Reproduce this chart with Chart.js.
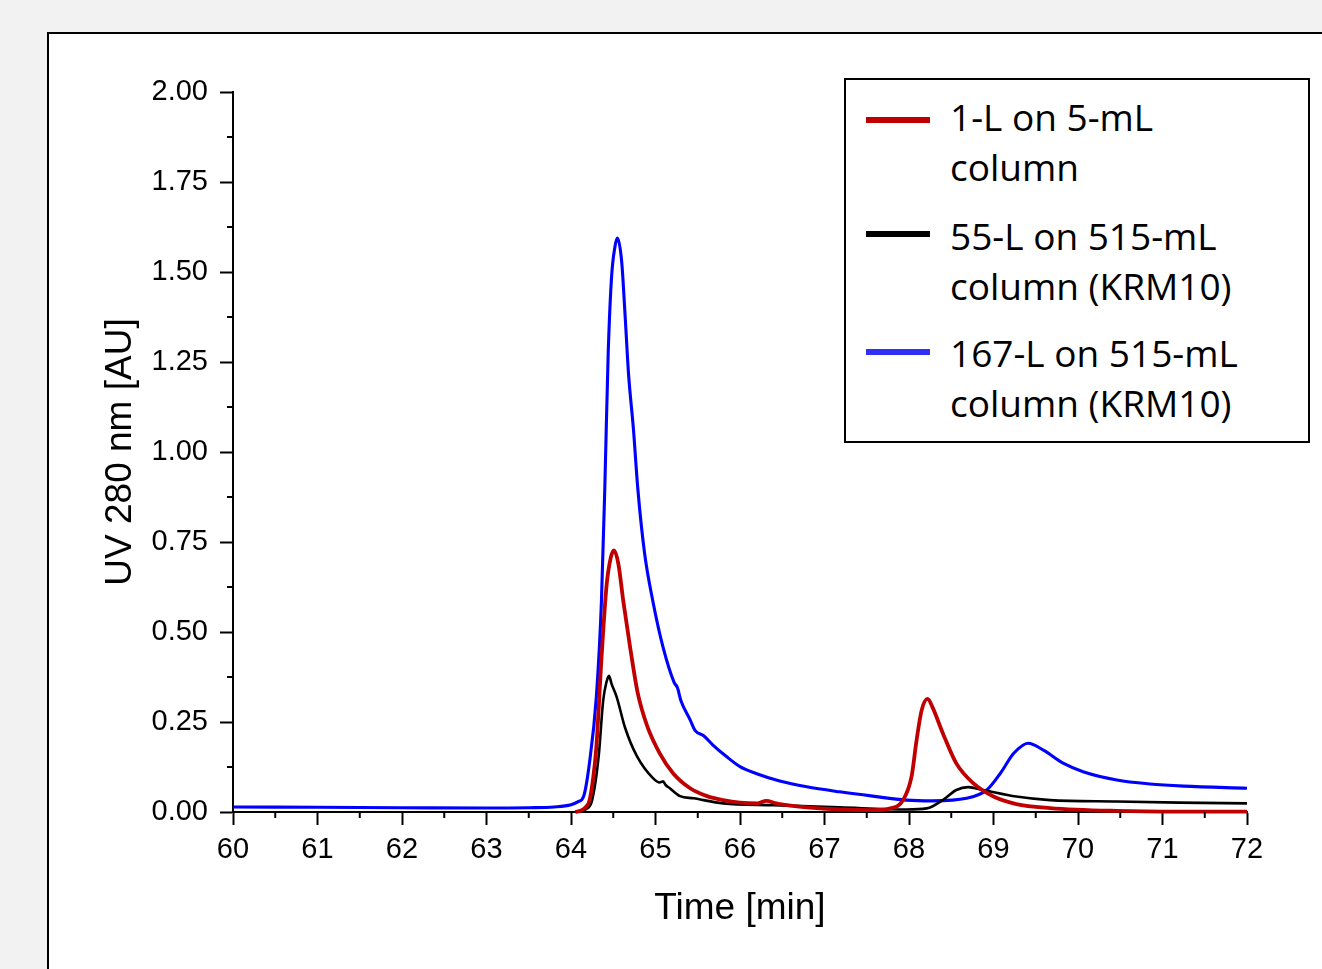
<!DOCTYPE html>
<html>
<head>
<meta charset="utf-8">
<script src="https://cdn.jsdelivr.net/npm/chart.js@4"></script>
<style>
    html, body { margin: 0; padding: 0; background: #f2f2f2; overflow: hidden; }
    #panel { position: absolute; left: 47px; top: 32px; width: 1400px; height: 1000px; background: #fff; border: 2px solid #000; }
    #chart { position: absolute; left: 0; top: 0; }
    #legend { position: absolute; left: 844px; top: 78px; width: 462px; height: 361px; border: 2px solid #000; background: #fff;
              font-family: "Open Sans", sans-serif; font-size: 37px; line-height: 50px; color: #000; }
    .swatch { position: absolute; left: 20px; width: 64px; height: 6px; }
    .txt { position: absolute; left: 104px; white-space: nowrap; }
</style>
</head>
<body>
<div id="panel"></div>
<canvas id="chart" width="1322" height="969"></canvas>
<div id="legend"></div>
<script>
// series (time in min, UV 280 nm in AU)
const redTime = [64.05, 64.12, 64.18, 64.22, 64.26, 64.30, 64.36, 64.42, 64.47, 64.51, 64.56, 64.62, 64.70, 64.79, 64.90, 65.05, 65.21, 65.41, 65.61, 65.80, 66.0, 66.21, 66.31, 66.43, 66.6, 66.79, 67.18, 67.57, 67.78, 67.93, 68.03, 68.09, 68.15, 68.22, 68.28, 68.40, 68.56, 68.76, 69.0, 69.27, 69.67, 70.46, 71.2, 72.0];
const redUV = [0, 0.004, 0.015, 0.033, 0.09, 0.18, 0.424, 0.627, 0.706, 0.727, 0.69, 0.584, 0.457, 0.33, 0.24, 0.163, 0.107, 0.066, 0.044, 0.033, 0.026, 0.024, 0.031, 0.024, 0.018, 0.013, 0.007, 0.005, 0.01, 0.033, 0.098, 0.2, 0.283, 0.314, 0.29, 0.219, 0.135, 0.08, 0.043, 0.022, 0.011, 0.003, 0.001, 0.001];

const blackTime = [64.1, 64.18, 64.25, 64.33, 64.38, 64.42, 64.45, 64.48, 64.54, 64.64, 64.78, 64.97, 65.05, 65.09, 65.12, 65.17, 65.29, 65.45, 65.80, 66.39, 67.18, 67.97, 68.21, 68.40, 68.56, 68.70, 68.88, 69.27, 69.67, 70.46, 71.2, 72.0];
const blackUV = [0, 0.008, 0.033, 0.161, 0.308, 0.361, 0.378, 0.356, 0.32, 0.234, 0.155, 0.094, 0.082, 0.085, 0.075, 0.066, 0.044, 0.038, 0.024, 0.019, 0.013, 0.007, 0.01, 0.033, 0.061, 0.069, 0.061, 0.043, 0.033, 0.029, 0.026, 0.024];

const blueTime = [60, 61, 62, 63, 63.5, 63.8, 64.0, 64.08, 64.15, 64.22, 64.30, 64.36, 64.40, 64.44, 64.48, 64.52, 64.55, 64.60, 64.64, 64.68, 64.74, 64.79, 64.87, 64.97, 65.09, 65.22, 65.26, 65.30, 65.41, 65.47, 65.57, 65.68, 65.84, 66.0, 66.19, 66.47, 66.79, 67.18, 67.57, 67.97, 68.28, 68.68, 68.92, 69.08, 69.24, 69.41, 69.59, 69.83, 70.06, 70.46, 70.85, 71.25, 72.0];
const blueUV = [0.014, 0.013, 0.012, 0.011, 0.012, 0.014, 0.02, 0.028, 0.044, 0.139, 0.32, 0.584, 0.90, 1.273, 1.486, 1.57, 1.594, 1.528, 1.38, 1.22, 1.06, 0.90, 0.72, 0.584, 0.457, 0.36, 0.345, 0.31, 0.256, 0.226, 0.212, 0.186, 0.154, 0.126, 0.107, 0.086, 0.07, 0.056, 0.044, 0.033, 0.031, 0.038, 0.061, 0.107, 0.163, 0.191, 0.172, 0.135, 0.112, 0.089, 0.078, 0.072, 0.066];

const seriesNames = [['1-L on 5-mL', 'column'], ['55-L on 515-mL', 'column (KRM10)'], ['167-L on 515-mL', 'column (KRM10)']];
const seriesColors = ['#c00000', '#000000', '#0000ff'];
const legendColors = ['#c00000', '#000000', '#2f2ff5'];

const xMinorTicks = [60.5, 61.5, 62.5, 63.5, 64.5, 65.5, 66.5, 67.5, 68.5, 69.5, 70.5, 71.5];
const yMinorTicks = [0.125, 0.375, 0.625, 0.875, 1.125, 1.375, 1.625, 1.875];

const toPoints = (xs, ys) => xs.map((x, i) => ({ x: x, y: ys[i] }));

// small outward minor ticks, placed with the scales
const minorTicks = {
    id: 'minorTicks',
    afterDraw(chart) {
        const { ctx, scales: { x, y } } = chart;
        ctx.save();
        ctx.strokeStyle = '#000';
        ctx.lineWidth = 2;
        xMinorTicks.forEach(v => {
            const p = x.getPixelForValue(v);
            ctx.beginPath(); ctx.moveTo(p, y.bottom); ctx.lineTo(p, y.bottom + 6); ctx.stroke();
        });
        yMinorTicks.forEach(v => {
            const p = y.getPixelForValue(v);
            ctx.beginPath(); ctx.moveTo(x.left, p); ctx.lineTo(x.left - 6, p); ctx.stroke();
        });
        ctx.restore();
    }
};

const tickFont = { family: '"Liberation Sans", Arial, sans-serif', size: 29 };
const titleFont = { family: '"Liberation Sans", Arial, sans-serif', size: 37 };

const chart = new Chart(document.getElementById('chart').getContext('2d'), {
    type: 'line',
    data: {
        datasets: [
            { label: seriesNames[0].join(' '), data: toPoints(redTime, redUV), borderColor: seriesColors[0], borderWidth: 3.8, order: 0 },
            { label: seriesNames[1].join(' '), data: toPoints(blackTime, blackUV), borderColor: seriesColors[1], borderWidth: 2.6, order: 1 },
            { label: seriesNames[2].join(' '), data: toPoints(blueTime, blueUV), borderColor: seriesColors[2], borderWidth: 3.1, order: 2 }
        ]
    },
    options: {
        responsive: false,
        animation: false,
        devicePixelRatio: 1,
        datasets: { line: { pointRadius: 0, fill: false, cubicInterpolationMode: 'monotone', clip: false } },
        layout: { padding: { left: 99, top: 92, right: 75, bottom: 38 } },
        plugins: { legend: { display: false }, tooltip: { enabled: false } },
        scales: {
            x: {
                type: 'linear', min: 60, max: 72,
                afterFit: s => { s.height = 119; },
                ticks: { stepSize: 1, font: tickFont, color: '#000', padding: 8 },
                grid: { drawOnChartArea: false, tickLength: 13, tickWidth: 2, tickColor: '#000' },
                border: { color: '#000', width: 2 },
                title: { display: true, text: 'Time [min]', font: titleFont, color: '#000', padding: 0 }
            },
            y: {
                min: 0, max: 2,
                afterFit: s => { s.width = 134; },
                ticks: { stepSize: 0.25, font: tickFont, color: '#000', padding: 12, callback: v => v.toFixed(2) },
                grid: { drawOnChartArea: false, tickLength: 13, tickWidth: 2, tickColor: '#000' },
                border: { color: '#000', width: 2 },
                title: { display: true, text: 'UV 280 nm [AU]', font: titleFont, color: '#000', padding: 0 }
            }
        }
    },
    plugins: [minorTicks]
});

// HTML legend with two-line entries
const legend = document.getElementById('legend');
const swatchTops = [37, 151, 269];
const textTops = [12, 131, 248];
chart.data.datasets.forEach((ds, i) => {
    const sw = document.createElement('div');
    sw.className = 'swatch';
    sw.style.top = swatchTops[i] + 'px';
    sw.style.background = legendColors[i];
    legend.appendChild(sw);
    const t = document.createElement('div');
    t.className = 'txt';
    t.style.top = textTops[i] + 'px';
    t.innerHTML = seriesNames[i].join('<br>');
    legend.appendChild(t);
});
</script>
</body>
</html>
